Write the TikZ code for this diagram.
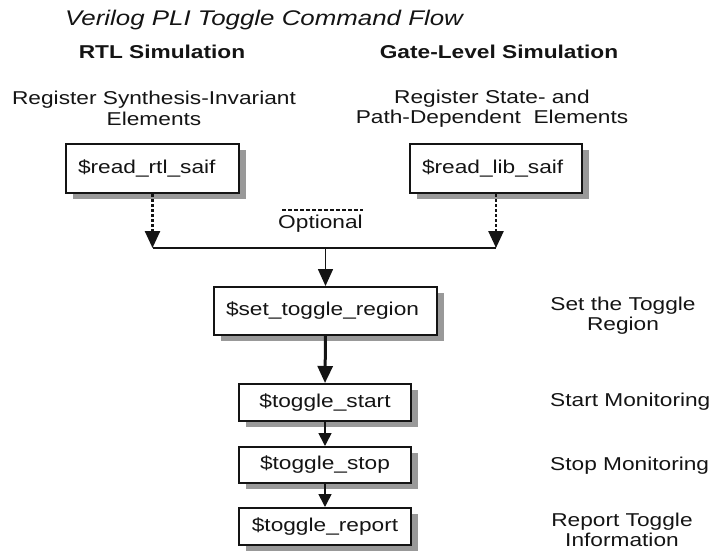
\documentclass[tikz,border=0pt]{standalone}
\usepackage{fontspec}
\setmainfont[FakeStretch=1.22]{Liberation Sans}
\usetikzlibrary{arrows.meta,shadows}
\definecolor{ink}{HTML}{141414}
\definecolor{shade}{HTML}{999999}
\begin{document}
\begin{tikzpicture}[x=1pt,y=-1pt,
  txt/.style={font=\fontsize{18.6}{20.5}\selectfont, text=ink, inner sep=0pt},
  cmdbox/.style={txt, draw=ink, line width=2pt, fill=white,
    general shadow={fill=shade, shadow xshift=7pt, shadow yshift=-6pt}},
  leftbox/.style={cmdbox, align=left, inner xsep=12pt, inner ysep=0pt},
  midbox/.style={cmdbox, align=center, minimum width=#1},
  wire/.style={draw=ink, line width=1.6pt},
  bigtip/.style={-{Triangle[width=15pt,length=17pt]}},
  smalltip/.style={-{Triangle[width=13pt,length=13pt]}},
  dotwire/.style={draw=ink, line width=2.5pt, dash pattern=on 3pt off 2pt}]

\useasboundingbox (0,0) rectangle (713,550);

% headings
\node[txt, anchor=west, font=\fontsize{21.2}{24}\selectfont\itshape] (title) at (65,20) {Verilog PLI Toggle Command Flow};
\node[txt, font=\fontsize{18.6}{20.5}\selectfont\bfseries] (rtlhead) at (162,52) {RTL Simulation};
\node[txt, font=\fontsize{18.6}{20.5}\selectfont\bfseries] (gatehead) at (499,52) {Gate-Level Simulation};
\node[txt, align=center] (rtldesc) at (154,108.5) {Register Synthesis-Invariant\\Elements};
\node[txt, align=center] (gatedesc) at (492,108.5) {Register State- and\\Path-Dependent\ \ Elements};

% command boxes
\node[leftbox, text width=149pt, minimum height=49pt] (rtl) at (152.5,168.5) {\$read\_rtl\_saif};
\node[leftbox, text width=148pt, minimum height=49pt] (lib) at (496,168.5) {\$read\_lib\_saif};
\node[leftbox, text width=199pt, minimum height=48pt] (set) at (325.5,311) {\$set\_toggle\_region};
\node[midbox=172pt, minimum height=37pt] (start) at (325,402.5) {\$toggle\_start};
\node[midbox=172pt, minimum height=36pt] (stop) at (325,465) {\$toggle\_stop};
\node[midbox=172pt, minimum height=37pt] (report) at (325,526.5) {\$toggle\_report};

% right-hand descriptions
\node[txt, align=center] (setlbl) at (623,315.5) {Set the Toggle\\Region};
\node[txt, anchor=west] (startlbl) at (550,402) {Start Monitoring};
\node[txt, anchor=west] (stoplbl) at (550,466) {Stop Monitoring};
\node[txt, align=center, font=\fontsize{18.6}{19.5}\selectfont] (replbl) at (622,530) {Report Toggle\\Information};

% optional marker
\coordinate (optl) at (282,210);
\coordinate (optr) at (363,210);
\draw[draw=ink, line width=1.2pt, dash pattern=on 4pt off 2pt] (optl) -- (optr);
\node[txt] (optional) at (320.5,224) {Optional};

% merge line
\coordinate (jl) at (rtl.south |- 0,248);
\coordinate (jr) at (lib.south |- 0,248);
\coordinate (jm) at (set.north |- 0,248);
\draw[dotwire, bigtip] (rtl.south) -- (jl);
\draw[dotwire, bigtip] (lib.south) -- (jr);
\draw[wire] (jl) -- (jr);
\draw[wire, bigtip] (jm) -- (set.north);

% main flow
\draw[draw=ink, line width=3pt, bigtip] (set.south) -- (start.north);
\draw[wire, smalltip] (start.south) -- (stop.north);
\draw[wire, smalltip] (stop.south) -- (report.north);
\end{tikzpicture}
\end{document}
